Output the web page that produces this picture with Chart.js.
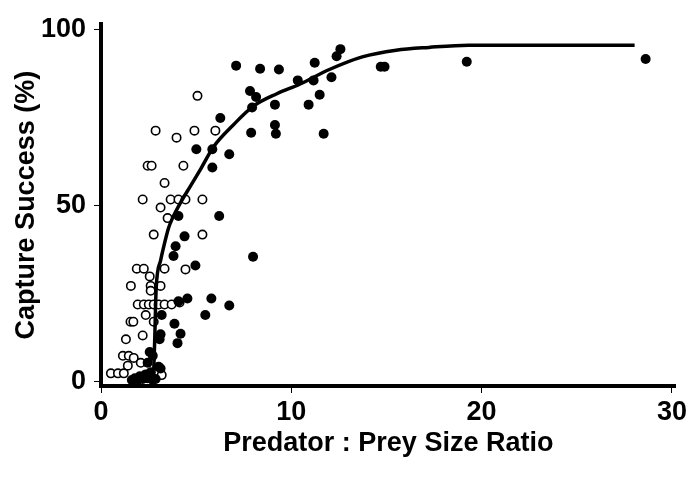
<!DOCTYPE html>
<html>
<head>
<meta charset="utf-8">
<script src="https://cdn.jsdelivr.net/npm/chart.js@4.4.1/dist/chart.umd.min.js"></script>
<style>
  html, body { margin: 0; padding: 0; background: #fff; }
  #wrap { width: 690px; height: 482px; }
</style>
</head>
<body>
<div id="wrap"><canvas id="c" width="690" height="482"></canvas></div>
<script>
// filled circles
const filledX = [7.10, 8.36, 9.35, 7.83, 8.15, 7.94, 9.14, 6.27, 9.14, 9.19, 7.89, 5.01, 5.85, 6.74, 5.85,
  10.34, 11.17, 10.91, 11.49, 11.70, 12.11, 12.38, 12.58, 11.23, 14.70, 14.90, 19.22, 28.62,
  4.07, 6.21, 4.39, 3.92, 3.81, 4.96, 7.99, 4.54, 4.07, 5.80, 6.74, 5.48, 3.19, 3.86, 3.13, 3.08,
  4.18, 4.02, 2.56, 2.72, 2.45, 3.13, 3.03,
  1.62, 1.93, 2.19, 2.45, 2.72, 2.04, 2.35, 2.61, 1.78, 2.87];
const filledY = [89.8, 88.9, 88.7, 82.6, 80.9, 77.9, 78.7, 74.9, 72.9, 70.4, 70.7, 66.0, 66.0, 64.6, 60.8,
  85.6, 85.6, 78.7, 81.5, 70.4, 86.5, 92.5, 94.5, 90.6, 89.5, 89.5, 90.9, 91.7,
  47.0, 47.0, 41.2, 38.4, 35.6, 32.9, 35.4, 23.5, 22.7, 23.5, 21.5, 18.8, 18.8, 16.3, 13.3, 11.9,
  13.5, 10.8, 8.3, 7.2, 5.2, 3.6, 4.1,
  0.3, 0.3, 0.6, 0.8, 0.3, 1.4, 1.9, 2.5, 0.8, 0.6];

// open circles
const openX = [5.07, 2.87, 3.97, 4.91, 6.01, 2.45, 2.66, 4.33, 3.34, 2.19, 3.66, 4.07, 4.44, 5.33,
  3.13, 3.50, 2.77, 5.33, 1.88, 2.25, 2.56, 3.34, 4.44, 1.57, 2.61, 3.13, 2.61,
  1.93, 2.25, 2.51, 2.77, 3.03, 3.34, 3.71, 4.13, 2.35, 2.77, 1.55, 1.70, 1.31, 2.19,
  1.15, 1.46, 1.72, 2.09, 1.41, 0.52, 0.89, 1.20, 3.19];
const openY = [81.2, 71.3, 69.3, 71.3, 71.3, 61.3, 61.3, 61.3, 56.4, 51.7, 51.7, 51.7, 51.7, 51.7,
  49.4, 46.4, 41.7, 41.7, 32.0, 32.0, 29.8, 32.0, 31.8, 27.1, 27.1, 27.1, 25.7,
  21.8, 21.8, 21.8, 21.8, 21.8, 21.8, 21.8, 22.4, 18.8, 16.9, 16.9, 16.9, 11.9, 13.0,
  7.2, 7.2, 6.6, 5.2, 4.4, 2.2, 2.2, 2.2, 1.7];

// fitted curve
const curveX = [2.75, 2.78, 2.82, 2.90, 3.13, 3.24, 3.55, 3.76, 4.18, 4.70, 5.22, 5.90, 6.95, 7.99,
  9.24, 10.44, 12.0, 13.73, 15.51, 17.23, 19.32, 28.04];
const curveY = [0, 4.4, 11.3, 26.5, 34.3, 37.0, 43.6, 46.4, 50.8, 55.5, 60.2, 66.6, 72.9, 78.2,
  81.8, 84.5, 88.7, 92.3, 94.2, 95.0, 95.6, 95.6];

const xTicks = [0, 10, 20, 30];
const yTicks = [0, 50, 100];

const pts = (xs, ys) => xs.map((x, i) => ({ x, y: ys[i] }));
const FONT = "'Liberation Sans', Arial, sans-serif";

// eslint-disable-next-line no-undef
new Chart(document.getElementById('c'), {
  type: 'scatter',
  data: {
    datasets: [
      {
        label: 'curve',
        type: 'line',
        data: pts(curveX, curveY),
        borderColor: '#000',
        borderWidth: 3.5,
        pointRadius: 0,
        fill: false,
        cubicInterpolationMode: 'monotone',
        clip: false,
      },
      {
        label: 'filled',
        data: pts(filledX, filledY),
        backgroundColor: '#000',
        borderColor: '#000',
        borderWidth: 0,
        pointRadius: 5,
        clip: false,
      },
      {
        label: 'open',
        data: pts(openX, openY),
        backgroundColor: '#fff',
        borderColor: '#000',
        borderWidth: 1.6,
        pointRadius: 4.2,
        clip: false,
      },
    ],
  },
  options: {
    responsive: false,
    animation: false,
    layout: { padding: { top: 13, right: 12, left: 0, bottom: 0 } },
    plugins: {
      legend: { display: false },
      tooltip: { enabled: false },
    },
    scales: {
      x: {
        type: 'linear',
        min: 0,
        max: 30.2,
        afterBuildTicks: (scale) => { scale.ticks = xTicks.map((v) => ({ value: v })); },
        afterFit: (scale) => { scale.height = 96; },
        border: { display: true, color: '#000', width: 4 },
        grid: { drawOnChartArea: false, drawTicks: true, tickLength: 7, color: '#000', lineWidth: 1 },
        ticks: {
          color: '#000',
          padding: 3,
          maxRotation: 0,
          font: { family: FONT, size: 27, weight: 'bold' },
        },
        title: {
          display: true,
          text: 'Predator : Prey Size Ratio',
          color: '#000',
          padding: { top: 0, bottom: 22 },
          font: { family: FONT, size: 27, weight: 'bold' },
        },
      },
      y: {
        type: 'linear',
        min: -1.4,
        max: 101.6,
        afterBuildTicks: (scale) => { scale.ticks = yTicks.map((v) => ({ value: v })); },
        afterFit: (scale) => { scale.width = 101; },
        border: { display: true, color: '#000', width: 4 },
        grid: { drawOnChartArea: false, drawTicks: true, tickLength: 7, color: '#000', lineWidth: 1 },
        ticks: {
          color: '#000',
          padding: 8,
          font: { family: FONT, size: 27, weight: 'bold' },
        },
        title: {
          display: true,
          text: 'Capture Success (%)',
          color: '#000',
          padding: { top: 10, bottom: 0 },
          font: { family: FONT, size: 27, weight: 'bold' },
        },
      },
    },
  },
});
</script>
</body>
</html>
